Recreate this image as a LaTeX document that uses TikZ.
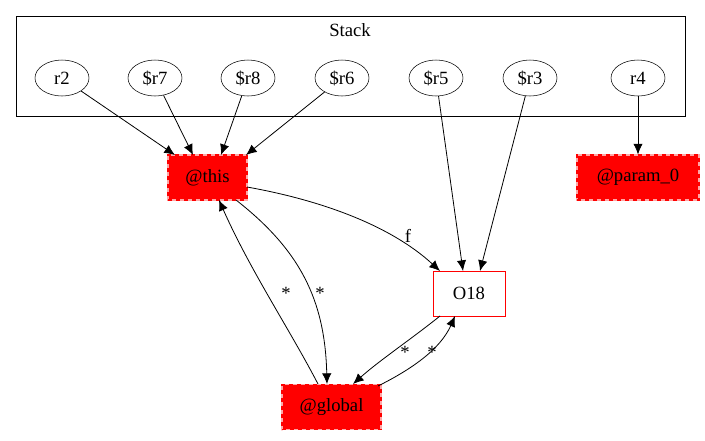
\documentclass[tikz,border=0pt]{standalone}
\usepackage{fontspec}
\setmainfont{Liberation Serif}
\usetikzlibrary{arrows.meta,shapes.geometric}
\begin{document}
\begin{tikzpicture}[x=0.75pt,y=-0.75pt,
  every node/.style={font=\fontsize{14}{16}\selectfont},
  var/.style={draw,ellipse,minimum width=54*0.75pt,minimum height=36*0.75pt,inner sep=0pt},
  hot/.style={fill=red,draw=red!35,line width=0.8pt,minimum height=45*0.75pt,inner sep=0pt,
    postaction={draw=red,dashed,line width=0.8pt}},
  obj/.style={draw=red,fill=white,minimum width=72*0.75pt,minimum height=45*0.75pt,inner sep=0pt},
  edge/.style={-{Latex[length=8pt,width=7pt]},line width=0.6pt},
  lbl/.style={font=\fontsize{14}{16}\selectfont,inner sep=1pt}]
\useasboundingbox (0,0) rectangle (705,440);
% stack cluster
\draw[line width=0.6pt] (16,16) rectangle (685,116);
\node (stacklabel) at (350,30) {Stack};
\node[var] (r2) at (62,78) {r2};
\node[var] (r7) at (155,78) {\$r7};
\node[var] (r8) at (248,78) {\$r8};
\node[var] (r6) at (342,78) {\$r6};
\node[var] (r5) at (436,78) {\$r5};
\node[var] (r3) at (530,78) {\$r3};
\node[var] (r4) at (638,78) {r4};
% objects
\node[hot,minimum width=79*0.75pt] (this) at (207.5,177.5) {@this};
\node[hot,minimum width=122*0.75pt] (param) at (638,177.5) {@param\_0};
\node[obj] (o18) at (469,293.5) {O18};
\node[hot,minimum width=99*0.75pt] (global) at (331.5,407) {@global};
% references from the stack
\draw[edge] (r2) -- (175,155);
\draw[edge] (r7) -- (193,155);
\draw[edge] (r8) -- (221,155);
\draw[edge] (r6) -- (246,155);
\draw[edge] (r5) -- (463,271);
\draw[edge] (r3) -- (480,271);
\draw[edge] (r4) -- (param);
% field references
\draw[edge] (247,187) .. controls (320,200) and (390,225) .. (440,271);
\node[lbl] (lf) at (408,236) {f};
\draw[edge] (236,200) .. controls (300,250) and (325,300) .. (327,384);
\node[lbl] (l1) at (320,293) {*};
\draw[edge] (318,384) .. controls (290,330) and (250,270) .. (219,200);
\node[lbl] (l2) at (286,293) {*};
\draw[edge] (440,316) .. controls (410,340) and (380,360) .. (353,384);
\node[lbl] (l3) at (405,352) {*};
\draw[edge] (378,386) .. controls (410,370) and (440,350) .. (455,316);
\node[lbl] (l4) at (432,352) {*};
\end{tikzpicture}
\end{document}
